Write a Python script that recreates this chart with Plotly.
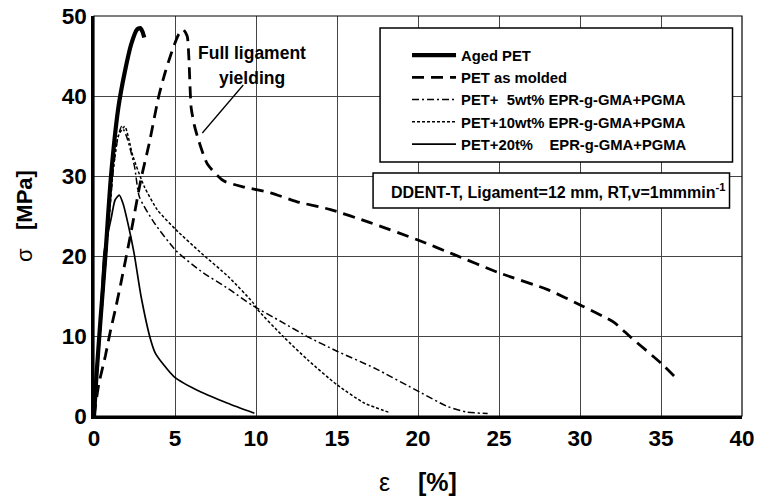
import plotly.graph_objects as go

# ---- data (strain %, stress MPa) ----
strain_aged = [0, 0.15, 0.4, 0.7, 1.05, 1.5, 1.9, 2.3, 2.65, 2.85, 3.0, 3.1]
stress_aged = [0, 5, 12, 20, 30, 38.5, 43, 46.5, 48.3, 48.5, 48.0, 47.3]

strain_molded = [0, 0.3, 0.7, 1.0, 1.36, 1.67, 2.28, 2.9, 3.4, 4.0, 4.4, 4.8, 5.2, 5.5, 5.75,
                 5.85, 6.0, 6.2, 6.45, 7.0, 8.0, 9.3, 10.9, 12.5, 14.6, 17, 20, 22.2, 25, 28,
                 30.2, 32.1, 33.1, 35, 35.9]
stress_molded = [0, 4, 7.5, 10.5, 13.7, 16.7, 22.9, 29.6, 34, 40, 43, 45.5, 47.6, 48.3, 47.5,
                 45, 38.5, 36.3, 34.5, 31.5, 29.4, 28.6, 27.9, 26.8, 25.8, 24.2, 22, 20.2, 17.9, 15.8,
                 13.7, 11.7, 9.9, 6.6, 4.8]

strain_5 = [0, 0.3, 0.6, 0.9, 1.2, 1.45, 1.7, 2.0, 2.5, 2.8, 3.7, 5.05, 6.6, 8.3, 9.8,
            11.55, 13.2, 15, 17.3, 20.1, 21.8, 23, 24.3]
stress_5 = [0, 8, 16, 24, 31, 34.5, 36.2, 35, 31.2, 27.4, 24.2, 20.7, 18.1, 15.9, 13.8,
            11.8, 9.9, 8.1, 6.0, 3.0, 1.2, 0.5, 0.3]

strain_10 = [0, 0.3, 0.6, 0.9, 1.2, 1.5, 1.9, 2.4, 3.1, 3.9, 5.05, 6.6, 8.3, 9.8, 10.1,
             11.7, 13.2, 15, 16.7, 18.3]
stress_10 = [0, 8, 16, 24, 31, 35, 36.2, 32.5, 28.7, 25.8, 23.3, 20.4, 17.4, 14.2, 13.3,
             9.9, 7.0, 3.9, 1.6, 0.4]

strain_20 = [0, 0.15, 0.35, 0.62, 1.05, 1.3, 1.56, 1.8, 2.08, 2.47, 2.9, 3.5, 3.8, 4.95,
             6.6, 8.25, 9.9]
stress_20 = [0, 5, 10, 20.4, 24.6, 27, 27.6, 26.5, 24.2, 20.4, 15, 9.5, 7.8, 4.9,
             3.0, 1.6, 0.35]

names = ["Aged PET", "PET as molded", "PET+  5wt% EPR-g-GMA+PGMA",
         "PET+10wt% EPR-g-GMA+PGMA", "PET+20t%    EPR-g-GMA+PGMA"]

x_ticks = [0, 5, 10, 15, 20, 25, 30, 35, 40]
y_ticks = [0, 10, 20, 30, 40, 50]

FONT = "Liberation Sans, Arial, sans-serif"

fig = go.Figure()
series = [
    (strain_aged, stress_aged, dict(color="black", width=4.2, dash="solid")),
    (strain_molded, stress_molded, dict(color="black", width=2.8, dash="12px,7px")),
    (strain_5, stress_5, dict(color="black", width=1.5, dash="7px,3px,2px,3px")),
    (strain_10, stress_10, dict(color="black", width=1.5, dash="3px,2px")),
    (strain_20, stress_20, dict(color="black", width=1.7, dash="solid")),
]
for (xs, ys, ln), nm in zip(series, names):
    ln = dict(ln, shape="spline", smoothing=0.6)
    fig.add_trace(go.Scatter(x=xs, y=ys, mode="lines", name=nm, line=ln))

# plot-area geometry in pixels (for paper-coordinate conversions)
L, R, T, B = 93.5, 742.5, 16, 416
def px(xp):
    return (xp - L) / (R - L)
def py(yp):
    return (B - yp) / (B - T)

shapes = [
    dict(type="rect", xref="paper", yref="paper", x0=0, x1=1, y0=0, y1=1,
         line=dict(color="black", width=1.2), layer="above"),
    dict(type="rect", xref="paper", yref="paper", x0=px(380), x1=px(733), y0=py(162), y1=py(28),
         line=dict(color="black", width=1.5), fillcolor="white", layer="above"),
    dict(type="rect", xref="paper", yref="paper", x0=px(373), x1=px(730), y0=py(208), y1=py(173),
         line=dict(color="black", width=1.5), fillcolor="white", layer="above"),
    dict(type="line", xref="paper", yref="paper", x0=px(243), y0=py(85), x1=px(202), y1=py(133),
         line=dict(color="black", width=1.3), layer="above"),
]

annotations = [
    dict(xref="paper", yref="paper", x=px(252), y=py(53), text="Full ligament",
         showarrow=False, font=dict(family=FONT, size=17.5, color="black", weight="bold"),
         xanchor="center", yanchor="middle"),
    dict(xref="paper", yref="paper", x=px(252), y=py(78), text="yielding",
         showarrow=False, font=dict(family=FONT, size=17.5, color="black", weight="bold"),
         xanchor="center", yanchor="middle"),
    dict(xref="paper", yref="paper", x=px(558), y=py(191),
         text="DDENT-T, Ligament=12 mm, RT,v=1mmmin<sup>-1</sup>",
         showarrow=False, font=dict(family=FONT, size=16, color="black", weight="bold"),
         xanchor="center", yanchor="middle"),
]

fig.update_layout(
    width=758, height=496,
    margin=dict(l=L, r=758 - R, t=T, b=496 - B, autoexpand=False),
    paper_bgcolor="white", plot_bgcolor="white",
    font=dict(family=FONT, color="black"),
    shapes=shapes, annotations=annotations,
    showlegend=True,
    legend=dict(xref="paper", yref="paper", x=px(407), y=py(39),
                xanchor="left", yanchor="top", bgcolor="rgba(0,0,0,0)", borderwidth=0,
                font=dict(family=FONT, size=14.8, color="black", weight="bold"), itemwidth=44,
                tracegroupgap=0),
    xaxis=dict(range=[0, 40], tickvals=x_ticks, ticktext=[str(v) for v in x_ticks],
               showgrid=True, gridcolor="#444", gridwidth=1, zeroline=False,
               showline=True, linecolor="black", linewidth=2.5, ticks="",
               tickfont=dict(family=FONT, size=22.5, color="black", weight="bold"),
               title=dict(text="ε\u00a0\u00a0\u00a0\u00a0<b>[%]</b>",
                          font=dict(family=FONT, size=25, color="black"), standoff=26)),
    yaxis=dict(range=[0, 50], tickvals=y_ticks, ticktext=[str(v) for v in y_ticks],
               showgrid=True, gridcolor="#444", gridwidth=1, zeroline=False,
               showline=True, linecolor="black", linewidth=2.5, ticks="",
               tickfont=dict(family=FONT, size=22.5, color="black", weight="bold"),
               title=dict(text="σ\u00a0\u00a0\u00a0<b>[MPa]</b>",
                          font=dict(family=FONT, size=22, color="black"), standoff=24)),
)

fig.write_html("out.html")
